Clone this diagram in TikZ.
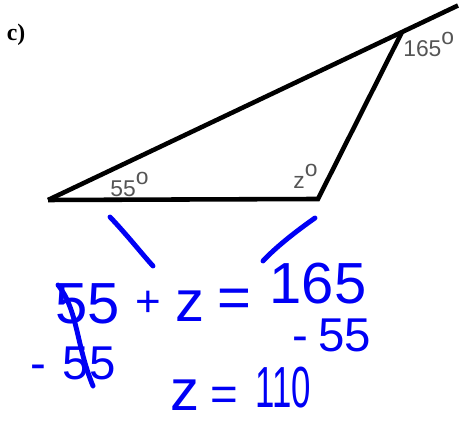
\documentclass[tikz,border=0pt]{standalone}
\usepackage{fontspec}
\setmainfont{Liberation Serif}
\setsansfont{Liberation Sans}
\usetikzlibrary{calc}
\definecolor{labelgray}{RGB}{85,85,85}
\definecolor{inkblue}{RGB}{0,0,245}
\newcommand{\angdeg}{\raisebox{0.55em}{o}}

\begin{document}
\begin{tikzpicture}[x=0.02cm, y=-0.02cm,
    edge/.style={line width=2.6pt, black},
    anglabel/.style={font=\sffamily\fontsize{13}{15}\selectfont, text=labelgray,
                     inner sep=0pt, anchor=base west},
    handtext/.style={font=\sffamily\fontsize{33}{38}\selectfont, text=inkblue, inner sep=0pt},
    handsmall/.style={handtext, font=\sffamily\fontsize{27}{31}\selectfont},
    handline/.style={line width=2.8pt, inkblue, line cap=round}
  ]
    \useasboundingbox (0,0) rectangle (461,421);

    % triangle with extended side
    \coordinate (A) at (48,200);
    \coordinate (B) at (318,199);
    \coordinate (C) at (402,32);
    \coordinate (E) at (458,5.5);
    \draw[edge] (A) -- (B) -- (C);
    \draw[edge] (A) -- (E);

    \node[font=\bfseries\fontsize{13.5}{16}\selectfont, inner sep=0pt] (part) at (16,35) {c)};
    \node[anglabel] (ext) at (403,57) {165\angdeg};
    \node[anglabel] (angA) at (110,197) {55\angdeg};
    \node[anglabel] (angB) at (293,189) {z\angdeg};

    % handwritten working
    \draw[handline] (110,217) .. controls (128,236) and (142,254) .. (153,266);
    \draw[handline] (315,218) .. controls (295,232) and (275,248) .. (263,261);

    \node[handtext] (lhs) at (88,304) {55};
    \node[handtext, font=\sffamily\fontsize{25}{29}\selectfont] (plus) at (148,304) {+};
    \node[handtext] (zvar) at (190,306) {z};
    \node[handtext] (eq) at (234,303) {=};
    \node[handtext] (rhs) at (318,284) {165};

    \node[handsmall] (subL) at (73,363) {-\hspace{0.35em}55};
    \node[handsmall] (subR) at (332,335) {-\hspace{0.2em}55};
    \draw[handline] (58,285) .. controls (78,310) and (76,345) .. (93,386);

    \node[handtext] (zres) at (185,395) {z};
    \node[handsmall] (eqres) at (224,399) {=};
    \node[handtext] (res) at (283,388) {\scalebox{0.6}[1]{110}};
  \end{tikzpicture}
\end{document}
